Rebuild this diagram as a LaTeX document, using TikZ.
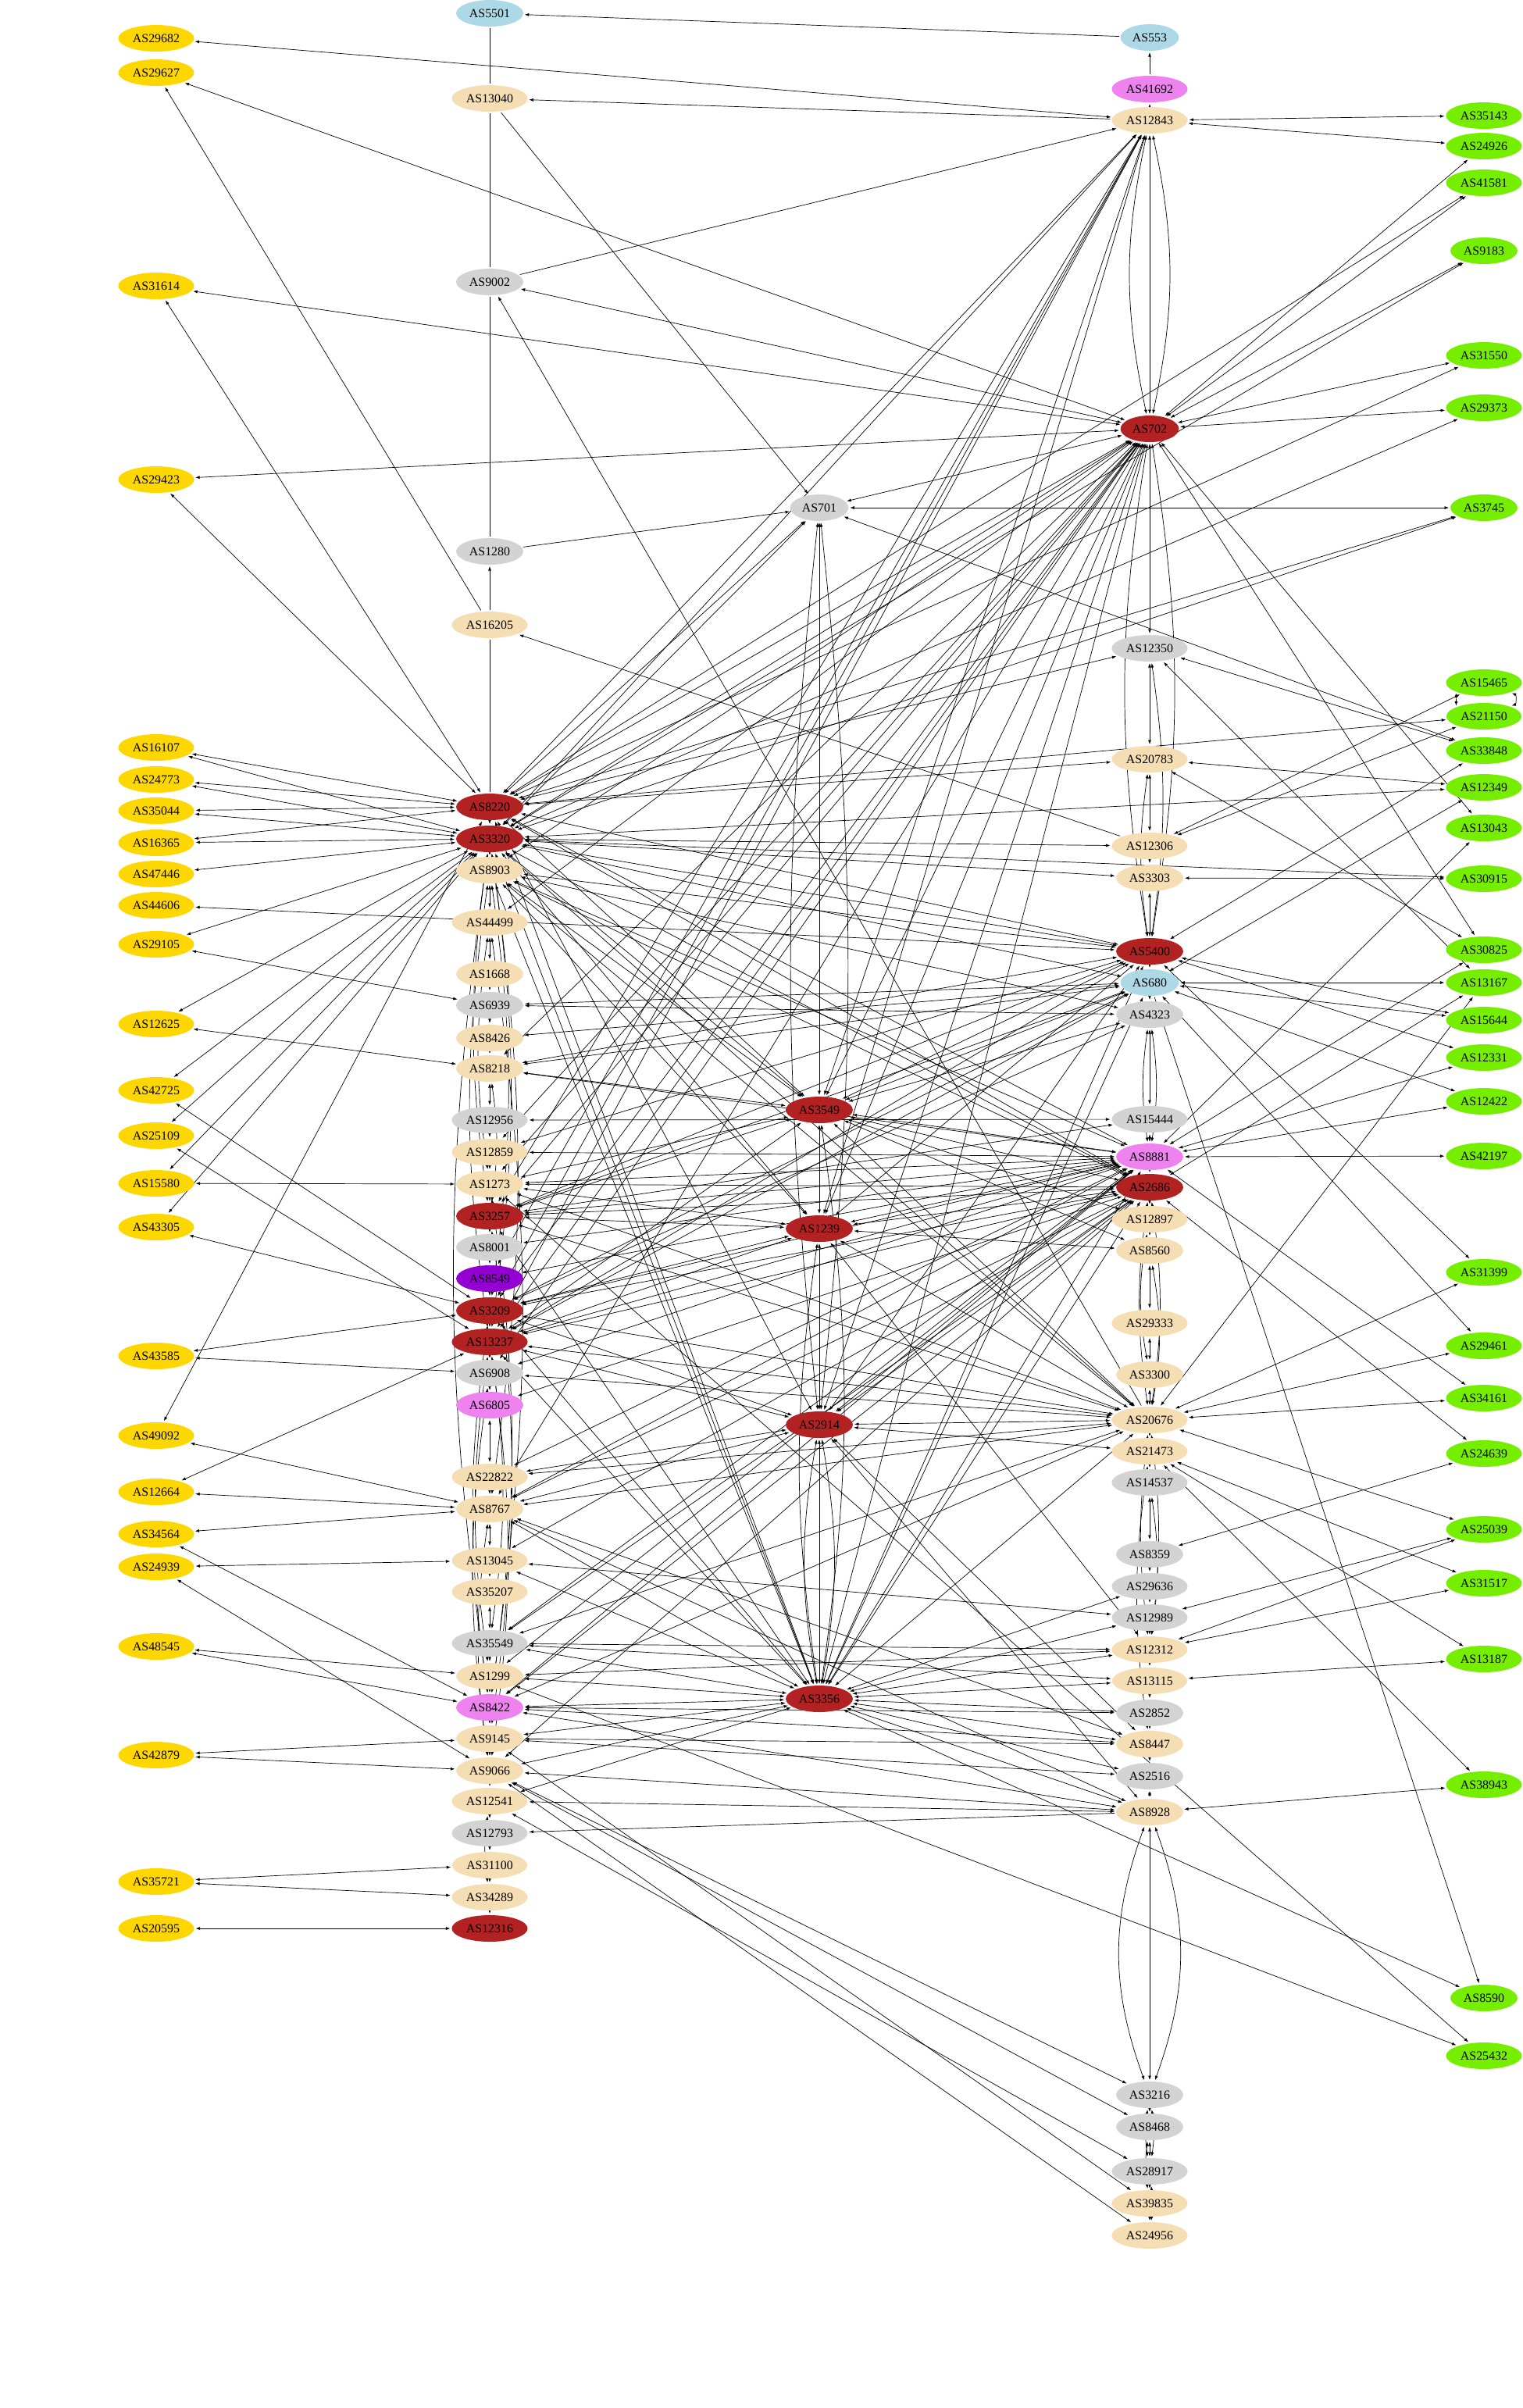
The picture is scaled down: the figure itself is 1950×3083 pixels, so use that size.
\documentclass[tikz,border=0pt]{standalone}
\usepackage{fontspec}
\setmainfont{Liberation Serif}
\usetikzlibrary{
    arrows.meta,
    backgrounds,
    shapes.geometric,
}
\definecolor{asgold}{HTML}{FFD700}
\definecolor{aswheat}{HTML}{F5DEB3}
\definecolor{asgrey}{HTML}{D3D3D3}
\definecolor{ascore}{HTML}{B22222}
\definecolor{asblue}{HTML}{ADD8E6}
\definecolor{aspink}{HTML}{EE82EE}
\definecolor{asviolet}{HTML}{9400D3}
\definecolor{asgreen}{HTML}{76EE00}
\tikzset{
  asnode/.style={ellipse, inner xsep=0.43pt, inner ysep=0pt, minimum height=3.4pt,
    font=\fontsize{1.59}{1.8}\selectfont},
  goldas/.style={asnode, fill=asgold},
  wheatas/.style={asnode, fill=aswheat},
  greyas/.style={asnode, fill=asgrey},
  coreas/.style={asnode, fill=ascore},
  blueas/.style={asnode, fill=asblue},
  pinkas/.style={asnode, fill=aspink},
  violetas/.style={asnode, fill=asviolet},
  greenas/.style={asnode, fill=asgreen},
  tipas/.tip={Latex[length=0.55pt,width=0.4pt]},
  bilink/.style={tipas-tipas, line width=0.07pt},
  unilink/.style={-tipas, line width=0.07pt},
  barelink/.style={line width=0.07pt},
}
\begin{document}
\begin{tikzpicture}[x=0.1pt,y=-0.1pt]
  \useasboundingbox (0,0) rectangle (1950,3083);

  \node[goldas] (AS29682) at (200,49) {AS29682};
  \node[goldas] (AS29627) at (200,93) {AS29627};
  \node[goldas] (AS31614) at (200,366) {AS31614};
  \node[goldas] (AS29423) at (200,614) {AS29423};
  \node[goldas] (AS16107) at (200,957) {AS16107};
  \node[goldas] (AS24773) at (200,998) {AS24773};
  \node[goldas] (AS35044) at (200,1038) {AS35044};
  \node[goldas] (AS16365) at (200,1079) {AS16365};
  \node[goldas] (AS47446) at (200,1119) {AS47446};
  \node[goldas] (AS44606) at (200,1159) {AS44606};
  \node[goldas] (AS29105) at (200,1209) {AS29105};
  \node[goldas] (AS12625) at (200,1311) {AS12625};
  \node[goldas] (AS42725) at (200,1396) {AS42725};
  \node[goldas] (AS25109) at (200,1454) {AS25109};
  \node[goldas] (AS15580) at (200,1515) {AS15580};
  \node[goldas] (AS43305) at (200,1571) {AS43305};
  \node[goldas] (AS43585) at (200,1736) {AS43585};
  \node[goldas] (AS49092) at (200,1838) {AS49092};
  \node[goldas] (AS12664) at (200,1910) {AS12664};
  \node[goldas] (AS34564) at (200,1964) {AS34564};
  \node[goldas] (AS24939) at (200,2006) {AS24939};
  \node[goldas] (AS48545) at (200,2108) {AS48545};
  \node[goldas] (AS42879) at (200,2247) {AS42879};
  \node[goldas] (AS35721) at (200,2409) {AS35721};
  \node[goldas] (AS20595) at (200,2469) {AS20595};

  \node[blueas] (AS5501) at (627,17) {AS5501};
  \node[wheatas] (AS13040) at (627,126) {AS13040};
  \node[greyas] (AS9002) at (627,361) {AS9002};
  \node[greyas] (AS1280) at (627,706) {AS1280};
  \node[wheatas] (AS16205) at (627,800) {AS16205};
  \node[coreas] (AS8220) at (627,1033) {AS8220};
  \node[coreas] (AS3320) at (627,1074) {AS3320};
  \node[wheatas] (AS8903) at (627,1114) {AS8903};
  \node[wheatas] (AS44499) at (627,1181) {AS44499};
  \node[wheatas] (AS1668) at (627,1247) {AS1668};
  \node[greyas] (AS6939) at (627,1287) {AS6939};
  \node[wheatas] (AS8426) at (627,1329) {AS8426};
  \node[wheatas] (AS8218) at (627,1368) {AS8218};
  \node[greyas] (AS12956) at (627,1434) {AS12956};
  \node[wheatas] (AS12859) at (627,1475) {AS12859};
  \node[wheatas] (AS1273) at (627,1516) {AS1273};
  \node[coreas] (AS3257) at (627,1557) {AS3257};
  \node[greyas] (AS8001) at (627,1597) {AS8001};
  \node[violetas] (AS8549) at (627,1637) {AS8549};
  \node[coreas] (AS3209) at (627,1678) {AS3209};
  \node[coreas] (AS13237) at (627,1718) {AS13237};
  \node[greyas] (AS6908) at (627,1758) {AS6908};
  \node[pinkas] (AS6805) at (627,1799) {AS6805};
  \node[wheatas] (AS22822) at (627,1891) {AS22822};
  \node[wheatas] (AS8767) at (627,1932) {AS8767};
  \node[wheatas] (AS13045) at (627,1998) {AS13045};
  \node[wheatas] (AS35207) at (627,2038) {AS35207};
  \node[greyas] (AS35549) at (627,2104) {AS35549};
  \node[wheatas] (AS1299) at (627,2146) {AS1299};
  \node[pinkas] (AS8422) at (627,2186) {AS8422};
  \node[wheatas] (AS9145) at (627,2226) {AS9145};
  \node[wheatas] (AS9066) at (627,2267) {AS9066};
  \node[wheatas] (AS12541) at (627,2306) {AS12541};
  \node[greyas] (AS12793) at (627,2347) {AS12793};
  \node[wheatas] (AS31100) at (627,2388) {AS31100};
  \node[wheatas] (AS34289) at (627,2429) {AS34289};
  \node[coreas] (AS12316) at (627,2469) {AS12316};

  \node[greyas] (AS701) at (1049,650) {AS701};
  \node[coreas] (AS3549) at (1049,1421) {AS3549};
  \node[coreas] (AS1239) at (1049,1573) {AS1239};
  \node[coreas] (AS2914) at (1049,1824) {AS2914};
  \node[coreas] (AS3356) at (1049,2175) {AS3356};

  \node[blueas] (AS553) at (1472,48) {AS553};
  \node[pinkas] (AS41692) at (1472,114) {AS41692};
  \node[wheatas] (AS12843) at (1472,154) {AS12843};
  \node[coreas] (AS702) at (1472,549) {AS702};
  \node[greyas] (AS12350) at (1472,830) {AS12350};
  \node[wheatas] (AS20783) at (1472,972) {AS20783};
  \node[wheatas] (AS12306) at (1472,1083) {AS12306};
  \node[wheatas] (AS3303) at (1472,1124) {AS3303};
  \node[coreas] (AS5400) at (1472,1218) {AS5400};
  \node[blueas] (AS680) at (1472,1258) {AS680};
  \node[greyas] (AS4323) at (1472,1299) {AS4323};
  \node[greyas] (AS15444) at (1472,1433) {AS15444};
  \node[pinkas] (AS8881) at (1472,1481) {AS8881};
  \node[coreas] (AS2686) at (1472,1520) {AS2686};
  \node[wheatas] (AS12897) at (1472,1561) {AS12897};
  \node[wheatas] (AS8560) at (1472,1601) {AS8560};
  \node[wheatas] (AS29333) at (1472,1694) {AS29333};
  \node[wheatas] (AS3300) at (1472,1760) {AS3300};
  \node[wheatas] (AS20676) at (1472,1818) {AS20676};
  \node[wheatas] (AS21473) at (1472,1858) {AS21473};
  \node[greyas] (AS14537) at (1472,1898) {AS14537};
  \node[greyas] (AS8359) at (1472,1990) {AS8359};
  \node[greyas] (AS29636) at (1472,2031) {AS29636};
  \node[greyas] (AS12989) at (1472,2071) {AS12989};
  \node[wheatas] (AS12312) at (1472,2112) {AS12312};
  \node[wheatas] (AS13115) at (1472,2152) {AS13115};
  \node[greyas] (AS2852) at (1472,2193) {AS2852};
  \node[wheatas] (AS8447) at (1472,2233) {AS8447};
  \node[greyas] (AS2516) at (1472,2274) {AS2516};
  \node[wheatas] (AS8928) at (1472,2320) {AS8928};
  \node[greyas] (AS3216) at (1472,2682) {AS3216};
  \node[greyas] (AS8468) at (1472,2723) {AS8468};
  \node[greyas] (AS28917) at (1472,2780) {AS28917};
  \node[wheatas] (AS39835) at (1472,2821) {AS39835};
  \node[wheatas] (AS24956) at (1472,2862) {AS24956};

  \node[greenas] (AS35143) at (1900,148) {AS35143};
  \node[greenas] (AS24926) at (1900,187) {AS24926};
  \node[greenas] (AS41581) at (1900,234) {AS41581};
  \node[greenas] (AS9183) at (1900,321) {AS9183};
  \node[greenas] (AS31550) at (1900,455) {AS31550};
  \node[greenas] (AS29373) at (1900,522) {AS29373};
  \node[greenas] (AS3745) at (1900,650) {AS3745};
  \node[greenas] (AS15465) at (1900,874) {AS15465};
  \node[greenas] (AS21150) at (1900,917) {AS21150};
  \node[greenas] (AS33848) at (1900,961) {AS33848};
  \node[greenas] (AS12349) at (1900,1008) {AS12349};
  \node[greenas] (AS13043) at (1900,1060) {AS13043};
  \node[greenas] (AS30915) at (1900,1125) {AS30915};
  \node[greenas] (AS30825) at (1900,1216) {AS30825};
  \node[greenas] (AS13167) at (1900,1258) {AS13167};
  \node[greenas] (AS15644) at (1900,1306) {AS15644};
  \node[greenas] (AS12331) at (1900,1354) {AS12331};
  \node[greenas] (AS12422) at (1900,1410) {AS12422};
  \node[greenas] (AS42197) at (1900,1480) {AS42197};
  \node[greenas] (AS31399) at (1900,1629) {AS31399};
  \node[greenas] (AS29461) at (1900,1723) {AS29461};
  \node[greenas] (AS34161) at (1900,1790) {AS34161};
  \node[greenas] (AS24639) at (1900,1861) {AS24639};
  \node[greenas] (AS25039) at (1900,1958) {AS25039};
  \node[greenas] (AS31517) at (1900,2027) {AS31517};
  \node[greenas] (AS13187) at (1900,2124) {AS13187};
  \node[greenas] (AS38943) at (1900,2285) {AS38943};
  \node[greenas] (AS8590) at (1900,2558) {AS8590};
  \node[greenas] (AS25432) at (1900,2632) {AS25432};

  \begin{scope}[on background layer]
    \foreach \a/\b in {AS5501/AS13040, AS13040/AS9002, AS9002/AS1280, AS8220/AS16205}
      \draw[barelink] (\a) -- (\b);
    \foreach \a/\b in {AS16205/AS1280, AS553/AS5501, AS12843/AS13040, AS41692/AS553,
        AS12843/AS41692, AS16205/AS29627, AS9002/AS12843, AS20676/AS9002,
        AS1280/AS701, AS13040/AS701, AS8928/AS12793, AS680/AS8590, AS12306/AS16205}
      \draw[unilink] (\a) -- (\b);

    \foreach \a/\b in {AS8220/AS3320, AS3320/AS8903, AS8903/AS44499, AS44499/AS1668,
        AS1668/AS6939, AS6939/AS8426, AS8426/AS8218, AS8218/AS12956, AS12956/AS12859,
        AS12859/AS1273, AS1273/AS3257, AS3257/AS8001, AS8001/AS8549, AS8549/AS3209,
        AS3209/AS13237, AS13237/AS6908, AS6908/AS6805, AS6805/AS22822, AS22822/AS8767,
        AS8767/AS13045, AS13045/AS35207, AS35207/AS35549, AS35549/AS1299, AS1299/AS8422,
        AS8422/AS9145, AS9145/AS9066, AS9066/AS12541, AS12541/AS12793, AS12793/AS31100,
        AS31100/AS34289, AS34289/AS12316,
        AS701/AS3549, AS3549/AS1239, AS1239/AS2914, AS2914/AS3356,
        AS12843/AS702, AS702/AS12350, AS12350/AS20783, AS20783/AS12306, AS12306/AS3303,
        AS3303/AS5400, AS5400/AS680, AS680/AS4323, AS4323/AS15444, AS15444/AS8881,
        AS8881/AS2686, AS2686/AS12897, AS12897/AS8560, AS8560/AS29333, AS29333/AS3300,
        AS3300/AS20676, AS20676/AS21473, AS21473/AS14537, AS14537/AS8359, AS8359/AS29636,
        AS29636/AS12989, AS12989/AS12312, AS12312/AS13115, AS13115/AS2852, AS2852/AS8447,
        AS8447/AS2516, AS2516/AS8928, AS8928/AS3216, AS3216/AS8468, AS8468/AS28917,
        AS28917/AS39835, AS39835/AS24956}
      \draw[bilink] (\a) -- (\b);

    \foreach \a/\b/\c in {AS3320/AS13237/8, AS8903/AS3209/8, AS44499/AS8422/8,
        AS3320/AS8767/8, AS13237/AS9066/8, AS8218/AS3257/8, AS1273/AS8422/8,
        AS13237/AS35549/8, AS3257/AS9145/8, AS701/AS2914/6, AS3549/AS3356/8,
        AS2914/AS3356/10, AS12843/AS702/12, AS702/AS5400/9, AS12350/AS5400/8,
        AS4323/AS8881/8, AS2686/AS20676/8, AS8560/AS20676/10, AS20676/AS12312/7,
        AS14537/AS12312/8, AS8928/AS3216/20, AS3216/AS28917/8, AS28917/AS24956/6}
      \draw[bilink] (\a) to[bend left=\c] (\b);
    \foreach \a/\b/\c in {AS3320/AS3257/8, AS8903/AS13237/8, AS44499/AS1273/8,
        AS3209/AS8422/8, AS13237/AS1299/8, AS8767/AS9066/8, AS3320/AS8422/8,
        AS6908/AS9066/8, AS12541/AS34289/8, AS701/AS2914/6, AS1239/AS3356/8,
        AS2914/AS3356/10, AS12843/AS702/12, AS702/AS5400/9, AS20783/AS5400/8,
        AS4323/AS8881/8, AS2686/AS20676/8, AS12897/AS3300/10, AS20676/AS12312/7,
        AS21473/AS8447/8, AS8928/AS3216/20, AS3216/AS28917/8, AS8468/AS39835/8}
      \draw[bilink] (\a) to[bend right=\c] (\b);

    \foreach \a/\b in {AS12843/AS29682, AS702/AS29627, AS702/AS31614, AS8220/AS31614,
        AS702/AS29423, AS8220/AS29423, AS702/AS9002, AS701/AS3745, AS701/AS33848,
        AS12843/AS35143, AS12843/AS24926,
        AS16107/AS8220, AS16107/AS3320, AS24773/AS8220, AS24773/AS3320,
        AS35044/AS8220, AS35044/AS3320, AS16365/AS8220, AS16365/AS3320,
        AS47446/AS3320, AS44606/AS5400, AS29105/AS3320, AS29105/AS6939,
        AS12625/AS3320, AS12625/AS8218, AS42725/AS3320, AS42725/AS3209,
        AS25109/AS3320, AS25109/AS13237, AS15580/AS1273, AS15580/AS3320,
        AS43305/AS3320, AS43305/AS3209, AS43585/AS3209, AS43585/AS6908,
        AS49092/AS8220, AS49092/AS8767, AS12664/AS8767, AS12664/AS13237,
        AS34564/AS8767, AS34564/AS8422, AS24939/AS13045, AS24939/AS9066,
        AS48545/AS1299, AS48545/AS8422, AS42879/AS9145, AS42879/AS9066,
        AS35721/AS31100, AS35721/AS34289, AS20595/AS12316}
      \draw[bilink] (\a) -- (\b);

    \foreach \a/\b in {AS702/AS24926, AS702/AS41581, AS702/AS9183, AS702/AS31550,
        AS702/AS29373, AS702/AS13043, AS702/AS30825,
        AS8220/AS702, AS3320/AS702, AS8220/AS12843, AS3320/AS12843, AS8220/AS41581,
        AS3320/AS9183, AS8220/AS31550, AS3320/AS29373, AS8220/AS3745, AS3320/AS3745,
        AS8220/AS21150, AS3320/AS12349, AS3320/AS30915, AS8220/AS20783, AS3320/AS12306,
        AS3320/AS3303, AS8220/AS5400, AS3320/AS5400, AS3320/AS680, AS8220/AS8881,
        AS3320/AS2686, AS3320/AS3549, AS8220/AS3549, AS3320/AS1239, AS8220/AS2914,
        AS3320/AS3356, AS8220/AS3356, AS8220/AS701, AS3320/AS701, AS8220/AS12350,
        AS702/AS8903, AS702/AS44499, AS702/AS8218, AS702/AS12859, AS702/AS1273,
        AS702/AS3257, AS702/AS3209, AS702/AS13237, AS702/AS6908, AS702/AS8767,
        AS702/AS3549, AS702/AS1239, AS702/AS2914, AS702/AS3356, AS702/AS701,
        AS12843/AS3549, AS12843/AS1239, AS12843/AS3257, AS12843/AS13237,
        AS12843/AS8549, AS12843/AS3209}
      \draw[bilink] (\a) -- (\b);

    \foreach \a/\b in {AS5400/AS8903, AS5400/AS8218, AS5400/AS12859, AS5400/AS3257,
        AS5400/AS13237, AS680/AS6939, AS680/AS8426, AS680/AS8218, AS680/AS3257,
        AS680/AS13237, AS680/AS3209, AS4323/AS6939, AS4323/AS3209, AS4323/AS8903,
        AS15444/AS12956, AS15444/AS3257, AS8881/AS8903, AS8881/AS8218, AS8881/AS12859,
        AS8881/AS1273, AS8881/AS3257, AS8881/AS8001, AS8881/AS8549, AS8881/AS3209,
        AS8881/AS13237, AS8881/AS6908, AS8881/AS22822, AS8881/AS8767, AS8881/AS35549,
        AS8881/AS1299, AS8881/AS8422, AS2686/AS8220, AS2686/AS8903, AS2686/AS1273,
        AS2686/AS3257, AS2686/AS3209, AS2686/AS13237, AS2686/AS6805, AS2686/AS8767,
        AS2686/AS13045, AS2686/AS35549, AS2686/AS8422, AS2686/AS9066,
        AS20676/AS3320, AS20676/AS8903, AS20676/AS1273, AS20676/AS3257, AS20676/AS3209,
        AS20676/AS13237, AS20676/AS6908, AS20676/AS22822, AS20676/AS8767,
        AS20676/AS35549, AS20676/AS8422, AS20676/AS3549, AS20676/AS1239,
        AS20676/AS2914, AS20676/AS3356}
      \draw[bilink] (\a) -- (\b);

    \foreach \a/\b in {AS3549/AS8218, AS3549/AS1273, AS3549/AS3257, AS3549/AS13237,
        AS3549/AS8903, AS3549/AS5400, AS3549/AS680, AS3549/AS8881, AS3549/AS2686,
        AS3549/AS8560, AS3549/AS12897, AS3549/AS4323,
        AS1239/AS3257, AS1239/AS1273, AS1239/AS13237, AS1239/AS3209, AS1239/AS8903,
        AS1239/AS8881, AS1239/AS2686, AS1239/AS5400, AS1239/AS8560, AS1239/AS12312,
        AS2914/AS3209, AS2914/AS13237, AS2914/AS22822, AS2914/AS8767, AS2914/AS8881,
        AS2914/AS2686, AS2914/AS5400, AS2914/AS21473, AS2914/AS8447, AS2914/AS8928,
        AS3356/AS3257, AS3356/AS13237, AS3356/AS3209, AS3356/AS8767, AS3356/AS13045,
        AS3356/AS35549, AS3356/AS1299, AS3356/AS8422, AS3356/AS9145, AS3356/AS9066,
        AS3356/AS12541, AS3356/AS8881, AS3356/AS2686, AS3356/AS5400, AS3356/AS680,
        AS3356/AS12312, AS3356/AS13115, AS3356/AS2852, AS3356/AS8447, AS3356/AS2516,
        AS3356/AS8928, AS3356/AS29636, AS3356/AS12989, AS3356/AS8590, AS3356/AS8903}
      \draw[bilink] (\a) -- (\b);

    \foreach \a/\b in {AS8767/AS8447, AS8767/AS8928, AS8422/AS8447, AS8422/AS8928,
        AS9145/AS8447, AS9066/AS8928, AS9066/AS3216, AS9066/AS8468, AS12541/AS8928,
        AS12541/AS28917, AS9145/AS39835, AS9066/AS24956, AS35549/AS12312,
        AS1299/AS12312, AS13045/AS12989, AS1299/AS25432, AS1273/AS25432,
        AS8422/AS2852, AS9145/AS2516, AS35549/AS13115,
        AS12350/AS33848, AS12306/AS15465, AS12306/AS21150, AS20783/AS30825,
        AS20783/AS12349, AS5400/AS33848, AS680/AS12349, AS8881/AS13043,
        AS3303/AS30915, AS680/AS13167, AS12350/AS13167, AS2686/AS13167,
        AS5400/AS15644, AS680/AS15644, AS5400/AS12331, AS8881/AS12331,
        AS680/AS12422, AS8881/AS12422, AS8881/AS42197, AS5400/AS31399,
        AS680/AS29461, AS8881/AS34161, AS2686/AS24639, AS8359/AS24639,
        AS12312/AS25039, AS12989/AS25039, AS21473/AS31517, AS12312/AS31517,
        AS13115/AS13187, AS21473/AS13187, AS8928/AS38943, AS21473/AS38943,
        AS8881/AS30825, AS20676/AS31399, AS20676/AS29461, AS20676/AS34161,
        AS20676/AS25039, AS20676/AS13167}
      \draw[bilink] (\a) -- (\b);

    \draw[bilink] (AS15465.south west) -- (AS21150.north west);
    \draw[bilink] (AS21150.north east) to[bend right=70] (AS15465.south east);
  \end{scope}
\end{tikzpicture}
\end{document}
